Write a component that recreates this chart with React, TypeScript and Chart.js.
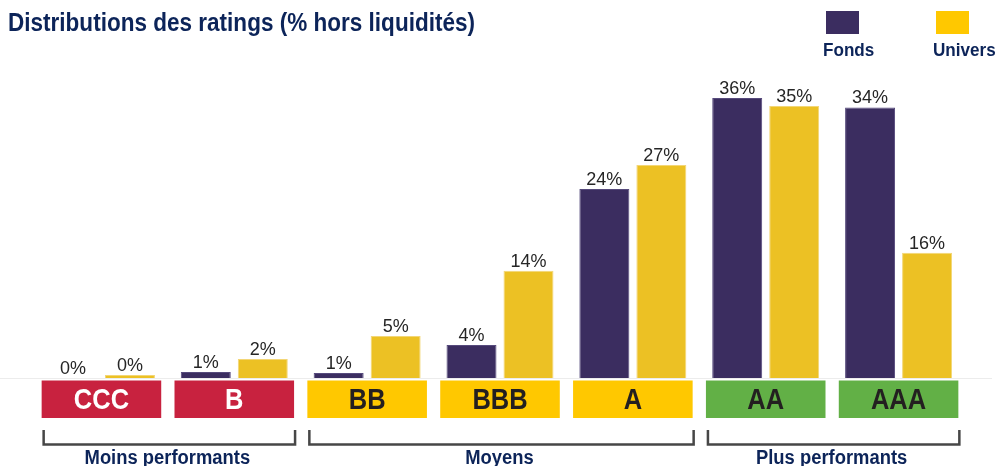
import React, { useEffect, useRef } from "react";
import { Chart, registerables } from "chart.js";

Chart.register(...registerables);

const ratings = ["CCC", "B", "BB", "BBB", "A", "AA", "AAA"];
const fondsValues = [0, 0.77, 0.64, 4.24, 24.3, 36.0, 34.8];
const universValues = [0.39, 2.44, 5.4, 13.8, 27.4, 35.0, 16.1];
const fondsLabels = ["0%", "1%", "1%", "4%", "24%", "36%", "34%"];
const universLabels = ["0%", "2%", "5%", "14%", "27%", "35%", "16%"];
const ratingBoxColors = ["#c8223f", "#c8223f", "#ffc800", "#ffc800", "#ffc800", "#62b046", "#62b046"];
const ratingTextColors = ["#ffffff", "#ffffff", "#231f20", "#231f20", "#231f20", "#231f20", "#231f20"];
const groupNames = ["Moins performants", "Moyens", "Plus performants"];
const groupFirst = [0, 2, 5];
const groupLast = [1, 4, 6];
const seriesNames = ["Fonds", "Univers"];
const titleText = "Distributions des ratings (% hors liquidités)";

const NAVY = "#0c2459";
const FONDS = "#3b2d60";
const UNIVERS = "#ecc124";
const LEGEND_UNIVERS = "#ffc800";
const SANS = '"Liberation Sans", Arial, sans-serif';

function drawNarrow(
  ctx: CanvasRenderingContext2D,
  text: string,
  x: number,
  y: number,
  font: string,
  scaleX: number,
  align: "left" | "center",
  baseline: CanvasTextBaseline = "alphabetic"
) {
  ctx.save();
  ctx.font = font;
  ctx.textAlign = "left";
  ctx.textBaseline = baseline;
  const w = ctx.measureText(text).width * scaleX;
  const startX = align === "center" ? x - w / 2 : x;
  ctx.translate(startX, y);
  ctx.scale(scaleX, 1);
  ctx.fillText(text, 0, 0);
  ctx.restore();
}

const decorPlugin = {
  id: "decor",
  beforeDatasetsDraw(chart: any) {
    const { ctx } = chart;
    const base = chart.scales.y.getPixelForValue(0);
    ctx.save();
    ctx.strokeStyle = "#ececec";
    ctx.lineWidth = 1;
    ctx.beginPath();
    ctx.moveTo(0, Math.round(base) + 0.5);
    ctx.lineTo(992, Math.round(base) + 0.5);
    ctx.stroke();
    ctx.restore();
  },
  afterDatasetsDraw(chart: any) {
    const { ctx } = chart;
    const x = chart.scales.x;
    const base = chart.scales.y.getPixelForValue(0);
    const catW = x.getPixelForValue(1) - x.getPixelForValue(0);
    const half = catW * 0.45;
    const labels = [fondsLabels, universLabels];

    ctx.save();
    // value labels
    ctx.font = `18px ${SANS}`;
    ctx.fillStyle = "#262626";
    ctx.textAlign = "center";
    ctx.textBaseline = "alphabetic";
    chart.data.datasets.forEach((_ds: any, di: number) => {
      const meta = chart.getDatasetMeta(di);
      meta.data.forEach((bar: any, i: number) => {
        ctx.fillText(labels[di][i], bar.x, bar.y - 4);
      });
    });

    // rating boxes
    ratings.forEach((r, i) => {
      const cx = x.getPixelForValue(i);
      ctx.fillStyle = ratingBoxColors[i];
      ctx.fillRect(cx - half, base + 2.5, half * 2, 37.5);
      ctx.fillStyle = ratingTextColors[i];
      drawNarrow(ctx, r, cx, base + 30.5, `bold 30px ${SANS}`, 0.85, "center");
    });

    // group brackets
    ctx.strokeStyle = "#474747";
    ctx.lineWidth = 2.5;
    groupNames.forEach((g, k) => {
      const left = x.getPixelForValue(groupFirst[k]) - half + 2;
      const right = x.getPixelForValue(groupLast[k]) + half + 1;
      const top = base + 52;
      const bottom = base + 66.5;
      ctx.beginPath();
      ctx.moveTo(left, top);
      ctx.lineTo(left, bottom);
      ctx.lineTo(right, bottom);
      ctx.lineTo(right, top);
      ctx.stroke();
      ctx.fillStyle = NAVY;
      drawNarrow(ctx, g, (left + right) / 2 - 2, base + 86, `bold 20px ${SANS}`, 0.92, "center");
    });

    // title (fitted to the reference title width)
    ctx.fillStyle = NAVY;
    ctx.font = `bold 26px ${SANS}`;
    const tw = ctx.measureText(titleText).width;
    drawNarrow(ctx, titleText, 8, 31, `bold 26px ${SANS}`, 467 / tw, "left");

    // legend
    const legendX = [826, 936];
    const legendColors = [FONDS, LEGEND_UNIVERS];
    seriesNames.forEach((s, k) => {
      ctx.fillStyle = legendColors[k];
      ctx.fillRect(legendX[k], 11, 33, 23);
      ctx.fillStyle = NAVY;
      drawNarrow(ctx, s, legendX[k] - 3, 56, `bold 18px ${SANS}`, 0.95, "left");
    });
    ctx.restore();
  },
};

export default function App() {
  const canvasRef = useRef<HTMLCanvasElement | null>(null);

  useEffect(() => {
    if (!canvasRef.current) return;
    const chart = new Chart(canvasRef.current, {
      type: "bar",
      data: {
        labels: ratings,
        datasets: [
          {
            label: seriesNames[0],
            data: fondsValues,
            backgroundColor: FONDS,
            borderColor: "#564a7c",
            borderWidth: 1,
            categoryPercentage: 0.858,
            barPercentage: 0.877,
          },
          {
            label: seriesNames[1],
            data: universValues,
            backgroundColor: UNIVERS,
            borderColor: "#f3d676",
            borderWidth: 1,
            categoryPercentage: 0.858,
            barPercentage: 0.877,
          },
        ],
      },
      options: {
        animation: false,
        responsive: true,
        maintainAspectRatio: false,
        layout: { padding: { top: 67, bottom: 88, left: 35, right: 35 } },
        plugins: {
          legend: { display: false },
          title: { display: false },
          tooltip: { enabled: false },
        },
        scales: {
          x: { display: false },
          y: { display: false, min: 0, max: 40 },
        },
      },
      plugins: [decorPlugin],
    });
    return () => chart.destroy();
  }, []);

  return (
    <div style={{ position: "absolute", left: 0, top: 0, width: 1000, height: 466, background: "#ffffff" }}>
      <canvas ref={canvasRef} />
    </div>
  );
}
